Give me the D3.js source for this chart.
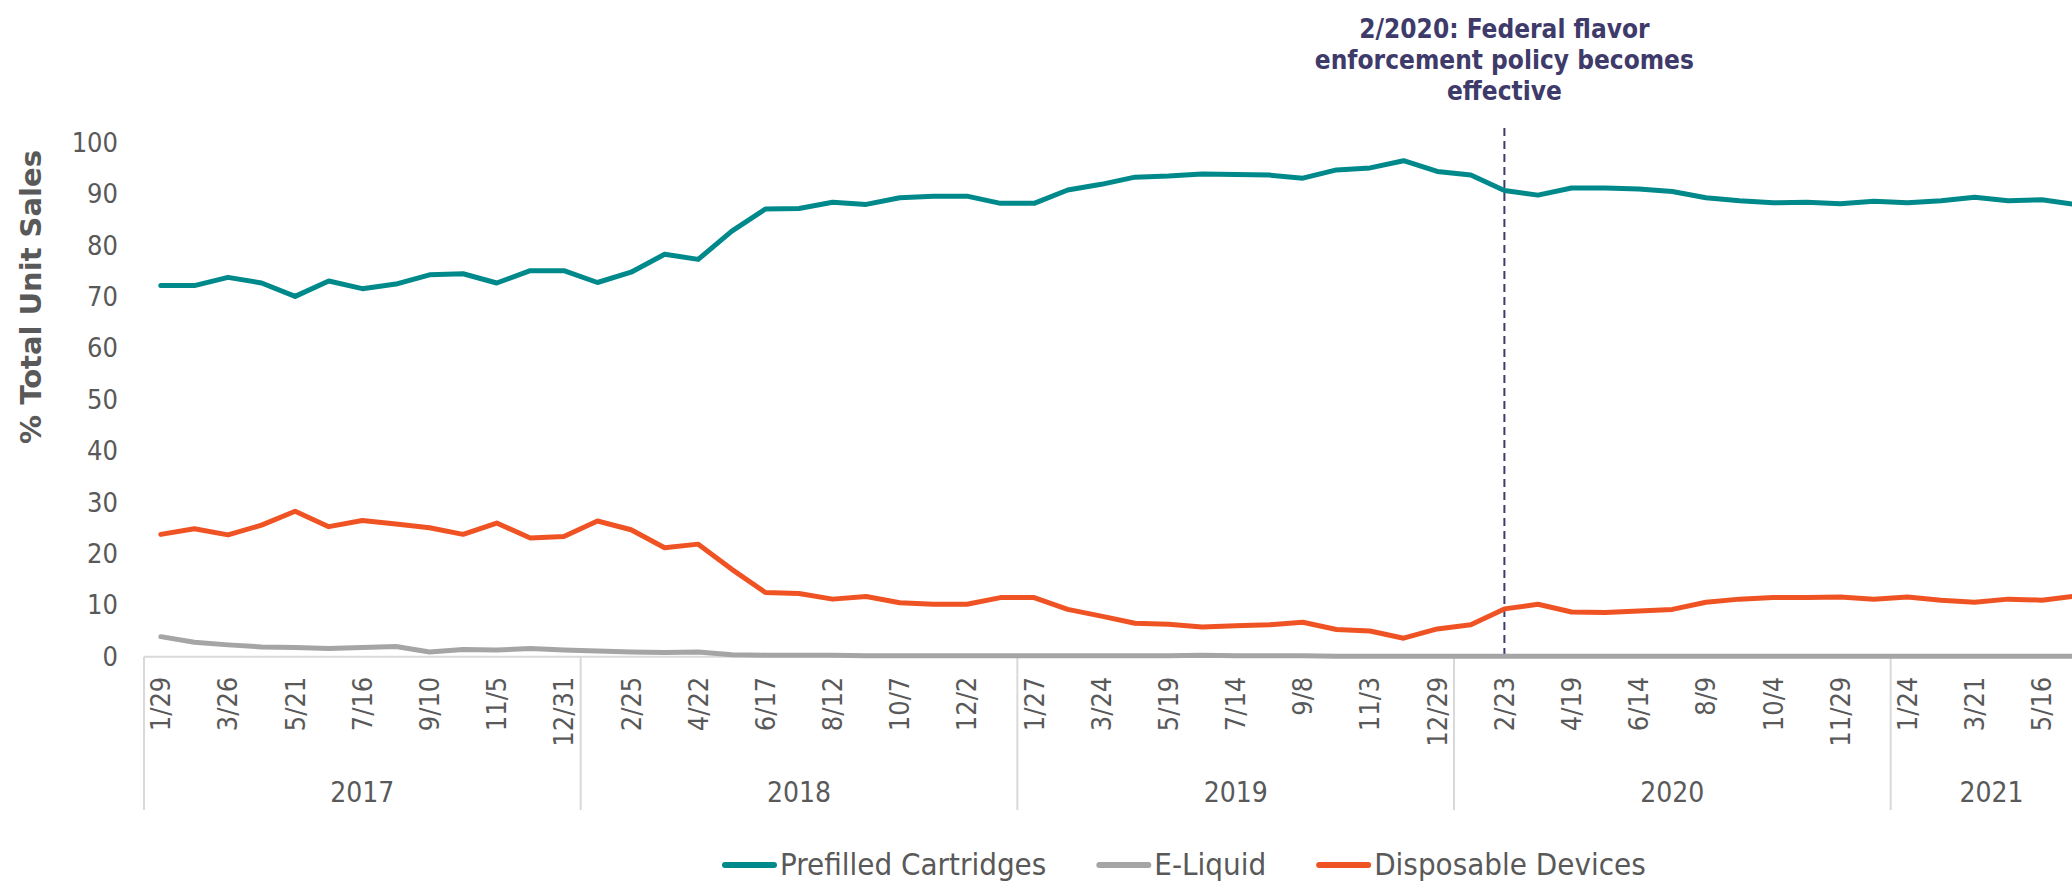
<!DOCTYPE html>
<html>
<head>
<meta charset="utf-8">
<script src="https://cdn.jsdelivr.net/npm/d3@7"></script>
<style>
  html, body { margin: 0; padding: 0; background: #ffffff; overflow: hidden; }
  svg { display: block; }
  text { font-family: "DejaVu Sans Condensed", "DejaVu Sans", sans-serif; font-stretch: condensed; }
</style>
</head>
<body>
<div id="chart"></div>
<script>
// ---------------- DATA ----------------
const periods = [
  "1/29","2/26","3/26","4/23","5/21","6/18","7/16","8/13","9/10","10/8","11/5","12/3","12/31",
  "1/28","2/25","3/25","4/22","5/20","6/17","7/15","8/12","9/9","10/7","11/4","12/2","12/30",
  "1/27","2/24","3/24","4/21","5/19","6/16","7/14","8/11","9/8","10/6","11/3","12/1","12/29",
  "1/26","2/23","3/22","4/19","5/17","6/14","7/12","8/9","9/6","10/4","11/1","11/29","12/27",
  "1/24","2/21","3/21","4/18","5/16","6/13"
];
const years = ["2017","2018","2019","2020","2021"];
const periodsPerYear = [13, 13, 13, 13, 6];

const prefilledCartridges = [
  72.2, 72.2, 73.8, 72.7, 70.1, 73.1, 71.6, 72.5, 74.3, 74.5, 72.7, 75.1, 75.1,
  72.8, 74.8, 78.3, 77.3, 82.8, 87.1, 87.2, 88.4, 88.0, 89.3, 89.6, 89.6, 88.2,
  88.2, 90.8, 91.9, 93.3, 93.5, 93.9, 93.8, 93.7, 93.1, 94.7, 95.1, 96.5, 94.4,
  93.7, 90.7, 89.8, 91.2, 91.2, 91.0, 90.5, 89.3, 88.7, 88.3, 88.4, 88.1, 88.6,
  88.3, 88.7, 89.4, 88.7, 88.9, 88.0
];
const eLiquid = [
  3.9, 2.8, 2.3, 1.9, 1.8, 1.6, 1.8, 2.0, 0.9, 1.4, 1.3, 1.6, 1.3,
  1.1, 0.9, 0.8, 0.9, 0.4, 0.3, 0.3, 0.3, 0.2, 0.2, 0.2, 0.2, 0.2,
  0.2, 0.2, 0.2, 0.2, 0.2, 0.3, 0.2, 0.2, 0.2, 0.1, 0.1, 0.1, 0.1,
  0.1, 0.1, 0.1, 0.1, 0.1, 0.1, 0.1, 0.1, 0.1, 0.1, 0.1, 0.1, 0.1,
  0.1, 0.1, 0.1, 0.1, 0.1, 0.1
];
const disposableDevices = [
  23.8, 24.9, 23.7, 25.6, 28.3, 25.3, 26.5, 25.8, 25.1, 23.8, 26.0, 23.1, 23.4,
  26.4, 24.7, 21.2, 21.9, 17.0, 12.5, 12.3, 11.2, 11.7, 10.5, 10.2, 10.2, 11.5,
  11.5, 9.2, 7.9, 6.5, 6.3, 5.8, 6.0, 6.2, 6.7, 5.3, 5.0, 3.6, 5.4,
  6.2, 9.3, 10.2, 8.7, 8.6, 8.9, 9.2, 10.6, 11.2, 11.5, 11.5, 11.6, 11.2,
  11.6, 11.0, 10.6, 11.2, 11.0, 11.8
];
const seriesNames = ["Prefilled Cartridges", "E-Liquid", "Disposable Devices"];
const yTicks = [0, 10, 20, 30, 40, 50, 60, 70, 80, 90, 100];
const yTitle = "% Total Unit Sales";
const eventPeriod = "2/23";          // within 2020
const eventYear = "2020";
const annotationLines = ["2/2020: Federal flavor", "enforcement policy becomes", "effective"];

// ---------------- LAYOUT ----------------
const W = 2072, H = 883;
const plotLeft = 144, step = 33.59;
const axisY = 656.7, topY = 142.7;
const colors = ["#00898B", "#A5A5A5", "#F05323"];
const textGray = "#595959";
const axisGray = "#D9D9D9";
const annColor = "#3E3A6A";

const svg = d3.select("#chart").append("svg").attr("width", W).attr("height", H);

const idx = d3.range(periods.length);
const x = d3.scaleBand().domain(idx).range([plotLeft, plotLeft + step * periods.length]).padding(0);
const cx = i => x(i) + x.bandwidth() / 2;
const y = d3.scaleLinear().domain([0, 100]).range([axisY, topY]);

// Y axis
const yAxis = svg.append("g")
  .attr("transform", `translate(${plotLeft},0)`)
  .call(d3.axisLeft(y).tickValues(yTicks).tickSize(0).tickPadding(26));
yAxis.select(".domain").remove();
yAxis.selectAll("text")
  .style("font-family", '"DejaVu Sans Condensed","DejaVu Sans",sans-serif')
  .style("font-size", "27px").attr("fill", textGray);

// Y title
svg.append("text")
  .attr("transform", `translate(41,297) rotate(-90)`)
  .attr("text-anchor", "middle")
  .style("font-family", '"DejaVu Sans","DejaVu Sans Condensed",sans-serif')
  .style("font-stretch", "normal")
  .style("font-weight", "bold").style("font-size", "29px")
  .attr("fill", textGray)
  .text(yTitle);

// Category axis line
const xEnd = plotLeft + step * periods.length;
svg.append("line").attr("x1", plotLeft).attr("x2", xEnd)
  .attr("y1", axisY).attr("y2", axisY)
  .attr("stroke", axisGray).attr("stroke-width", 2);

// Period tick labels (every other period)
const xAxis = svg.append("g")
  .attr("transform", `translate(0,${axisY})`)
  .call(d3.axisBottom(x).tickValues(idx.filter(i => i % 2 === 0)).tickSize(0).tickFormat(i => periods[i]));
xAxis.select(".domain").remove();
xAxis.selectAll("text")
  .attr("transform", "rotate(-90)")
  .attr("x", -20).attr("y", 0).attr("dy", "0.35em")
  .style("text-anchor", "end")
  .style("font-family", '"DejaVu Sans Condensed","DejaVu Sans",sans-serif')
  .style("font-size", "27px").attr("fill", textGray);

// Year groups: dividers and labels
let start = 0;
const bounds = [];
periodsPerYear.forEach((n, k) => {
  bounds.push({ year: years[k], s: start, e: start + n });
  start += n;
});
bounds.forEach(b => {
  const x0 = x(b.s);
  const x1 = b.e < periods.length ? x(b.e) : xEnd;
  svg.append("line").attr("x1", x0).attr("x2", x0).attr("y1", axisY).attr("y2", 810)
    .attr("stroke", axisGray).attr("stroke-width", 2);
  svg.append("text")
    .attr("x", (x0 + x1) / 2).attr("y", 802)
    .attr("text-anchor", "middle")
    .style("font-size", "28px").attr("fill", textGray)
    .text(b.year);
});
svg.append("line").attr("x1", xEnd).attr("x2", xEnd).attr("y1", axisY).attr("y2", 810)
  .attr("stroke", axisGray).attr("stroke-width", 2);

// Event dashed line
const yearStart = bounds.find(b => b.year === eventYear).s;
const evIdx = idx.find(i => i >= yearStart && periods[i] === eventPeriod);
svg.append("line")
  .attr("x1", cx(evIdx)).attr("x2", cx(evIdx))
  .attr("y1", 128).attr("y2", axisY)
  .attr("stroke", annColor).attr("stroke-width", 2)
  .attr("stroke-dasharray", "8,5");

// Series lines
const seriesData = [prefilledCartridges, eLiquid, disposableDevices];
const line = d3.line().x((d, i) => cx(i)).y(d => y(d));
seriesData.forEach((vals, k) => {
  svg.append("path")
    .datum(vals)
    .attr("d", line)
    .attr("fill", "none")
    .attr("stroke", colors[k])
    .attr("stroke-width", 5)
    .attr("stroke-linejoin", "round")
    .attr("stroke-linecap", "round");
});

// Annotation
const ann = svg.append("text")
  .attr("text-anchor", "middle")
  .style("font-weight", "bold").style("font-size", "26px")
  .attr("fill", annColor);
annotationLines.forEach((t, k) => {
  ann.append("tspan").attr("x", cx(evIdx)).attr("y", 38 + k * 31).text(t);
});

// Legend
let lx = 722;
const legY = 865;
seriesNames.forEach((name, k) => {
  svg.append("line")
    .attr("x1", lx + 3).attr("x2", lx + 52)
    .attr("y1", legY).attr("y2", legY)
    .attr("stroke", colors[k]).attr("stroke-width", 6)
    .attr("stroke-linecap", "round");
  const t = svg.append("text")
    .attr("x", lx + 58).attr("y", legY + 10)
    .style("font-size", "31px").attr("fill", textGray)
    .text(name);
  const w = t.node().getComputedTextLength();
  lx = lx + 58 + w + 50;
});
</script>
</body>
</html>
